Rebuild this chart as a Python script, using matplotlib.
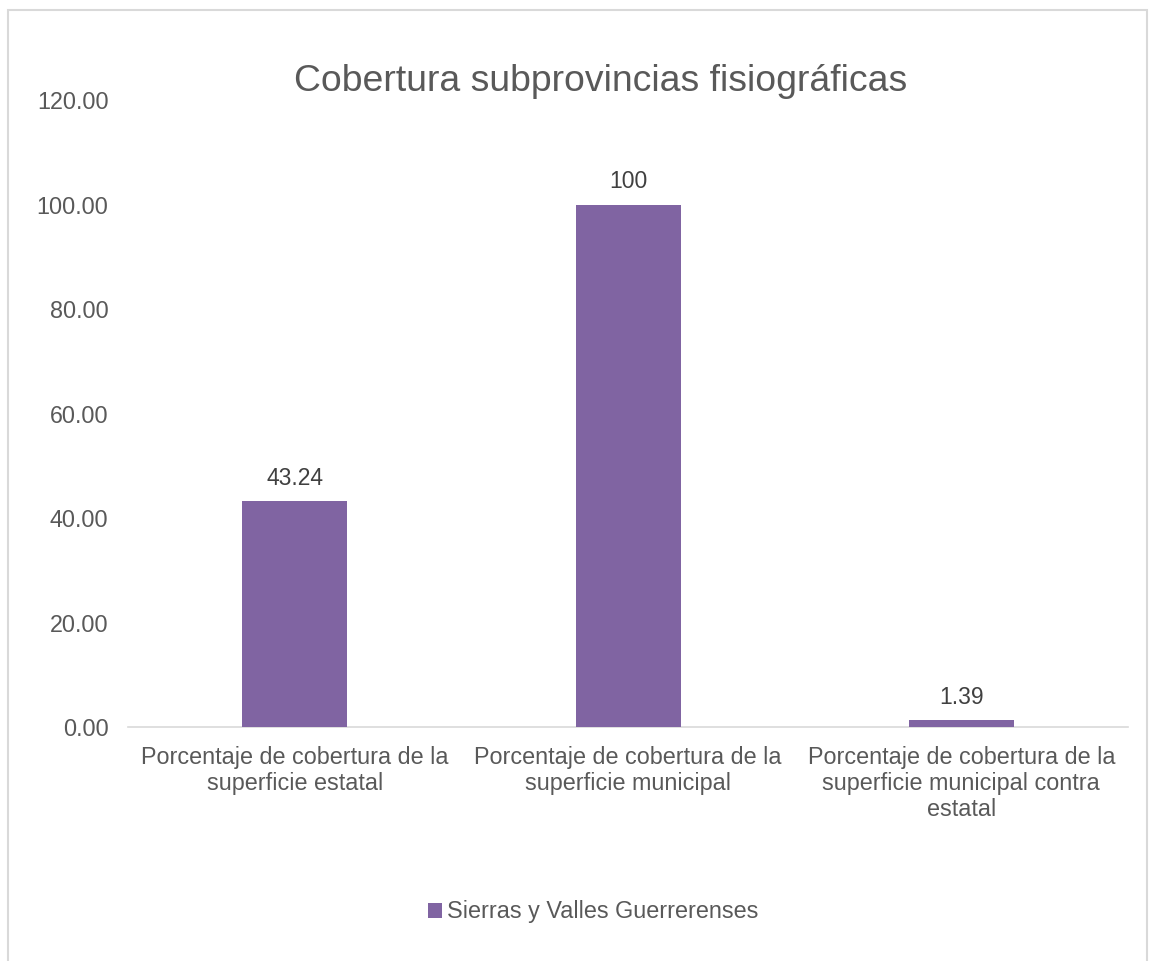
import matplotlib.pyplot as plt
from matplotlib.patches import Rectangle

plt.rcParams['font.family'] = ['Liberation Sans', 'DejaVu Sans']

categories = [
    "Porcentaje de cobertura de la\nsuperficie estatal",
    "Porcentaje de cobertura de la\nsuperficie municipal",
    "Porcentaje de cobertura de la\nsuperficie municipal contra\nestatal",
]
values = [43.24, 100, 1.39]
value_labels = ["43.24", "100", "1.39"]
series_name = "Sierras y Valles Guerrerenses"
yticks = [0, 20, 40, 60, 80, 100, 120]

text_color = "#595959"
bar_color = "#8064A2"

fig = plt.figure(figsize=(11.5, 9.61), dpi=100)
ax = fig.add_axes([0.1113, 0.2435, 0.8696, 0.6524])

x = range(len(categories))
bars = ax.bar(x, values, width=0.315, color=bar_color, label=series_name, zorder=3)

for rect, lab in zip(bars, value_labels):
    ax.annotate(lab, (rect.get_x() + rect.get_width() / 2, rect.get_height()),
                xytext=(0, 8), textcoords="offset points", ha="center", va="bottom",
                fontsize=16.5, color="#404040")

ax.set_xlim(-0.5, 2.5)
ax.set_ylim(0, 120)
ax.set_yticks(yticks)
ax.set_yticklabels([f"{t:.2f}" for t in yticks])
ax.set_xticks(list(x))
ax.set_xticklabels(categories, linespacing=1.15)
ax.tick_params(axis="both", length=0, labelsize=16.8, colors=text_color)
ax.tick_params(axis="y", pad=14)
ax.tick_params(axis="x", pad=14)

for s in ["top", "right", "left"]:
    ax.spines[s].set_visible(False)
ax.spines["bottom"].set_color("#d9d9d9")
ax.spines["bottom"].set_linewidth(1.2)

fig.text(0.5226, 0.915, "Cobertura subprovincias fisiográficas", ha="center", va="center",
         fontsize=26.9, color=text_color)

leg = fig.legend(loc="center", bbox_to_anchor=(0.516, 0.051), frameon=False,
                 fontsize=16.8, handlelength=0.6, handleheight=0.6, handletextpad=0.2,
                 labelcolor=text_color)

# chart border
fig.patches.append(Rectangle((8 / 1150, -0.01), 1139 / 1150, 1 - 10 / 961 + 0.01,
                             transform=fig.transFigure, fill=False,
                             edgecolor="#d9d9d9", linewidth=1.5))

fig.savefig("out.png", dpi=100, facecolor="white")
